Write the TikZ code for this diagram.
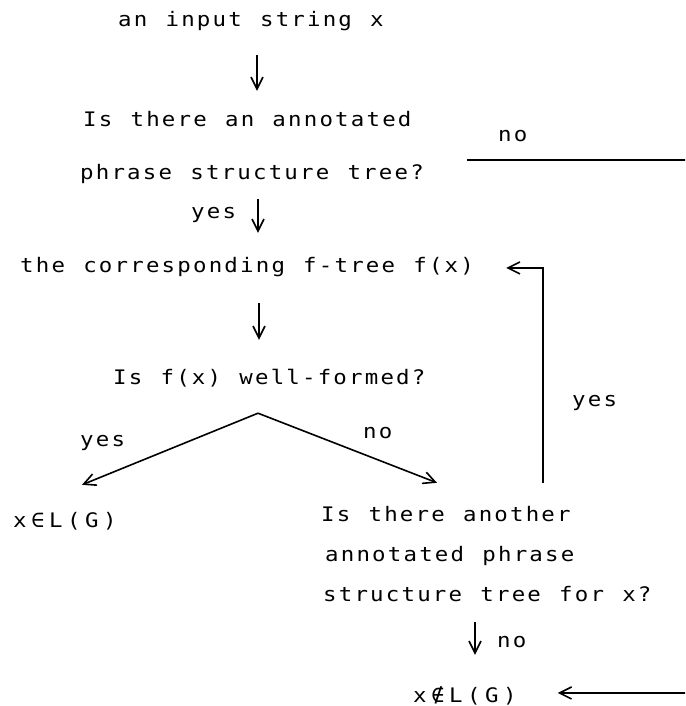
\documentclass[tikz,border=0pt]{standalone}
\usepackage{fontspec}
\setmonofont{DejaVu Sans Mono}[FakeStretch=1.12, LetterSpace=11, WordSpace=1.163]
\newfontfamily\widemono{DejaVu Sans Mono}[FakeStretch=1.12, LetterSpace=22.5, WordSpace=1.163]
\usetikzlibrary{arrows.meta,calc}
\begin{document}
\begin{tikzpicture}[x=1pt,y=-1pt,
  lbl/.style={anchor=base west, inner sep=0pt, text height=14.6pt, text depth=4.5pt,
    font=\ttfamily\fontsize{20}{24}\selectfont},
  widelbl/.style={lbl, font=\widemono\fontsize{20}{24}\selectfont},
  wire/.style={line width=1.6pt},
  arr/.style={wire, -{Straight Barb[length=12pt,width=12pt]}}]
\clip (0,0) rectangle (685,706);
\fill[white] (0,0) rectangle (685,706);
\coordinate (c1) at (257,0);
\coordinate (c4) at (475,0);
% texts
\node[lbl] (title) at (118,27) {an input string x};
\node[lbl] (q1a) at (83,127) {Is there an annotated};
\node[lbl] (q1b) at (80,179) {phrase structure tree?};
\node[lbl] (no1) at (498,141) {no};
\node[lbl] (yes1) at (191,218) {yes};
\node[lbl] (corr) at (20,272) {the corresponding f-tree f(x)};
\node[lbl] (wf) at (113,384) {Is f(x) well-formed?};
\node[lbl] (yes2) at (572,406) {yes};
\node[lbl] (yes3) at (80,446) {yes};
\node[lbl] (no2) at (363,438) {no};
\node[widelbl] (inL) at (13,527) {x∈L(G)};
\node[lbl] (q2a) at (321,521) {Is there another};
\node[lbl] (q2b) at (325,561) {annotated phrase};
\node[lbl] (q2c) at (323,601) {structure tree for x?};
\node[lbl] (no3) at (497,647) {no};
\node[widelbl] (notin) at (413,702) {x∉L(G)};
% vertical arrows
\draw[arr, shorten <=23.5pt, shorten >=21.4pt] (title.south -| c1) -- (q1a.north -| c1);
\draw[arr, shorten <=15.5pt, shorten >=24.4pt] ($(q1b.south -| c1)+(1,0)$) -- ($(corr.north -| c1)+(1,0)$);
\draw[arr, shorten <=26.5pt, shorten >=29.4pt] ($(corr.south -| c1)+(2,0)$) -- ($(wf.north -| c1)+(2,0)$);
\draw[arr, shorten <=16.5pt, shorten >=32.4pt] (q2c.south -| c4) -- (notin.north -| c4);
% no loop (goes off the right edge)
\coordinate (noA) at ($(q1b.north east)+(43,-4.4)$);
\draw[arr] (noA) -- ++(230,0) |- ($(notin.east)+(41,-4)$);
% yes loop
\coordinate (yfoot) at ($(q2a.north east)+(-28,-23.4)$);
\draw[arr] (yfoot) |- ($(corr.east)+(32,1)$);
% branches
\coordinate (apex) at ($(wf.south -| c1)+(1,24.5)$);
\draw[arr] (apex) -- ($(inL.north west)+(69,-27.4)$);
\draw[arr] (apex) -- ($(q2a.north west)+(116,-23.4)$);
\end{tikzpicture}
\end{document}
